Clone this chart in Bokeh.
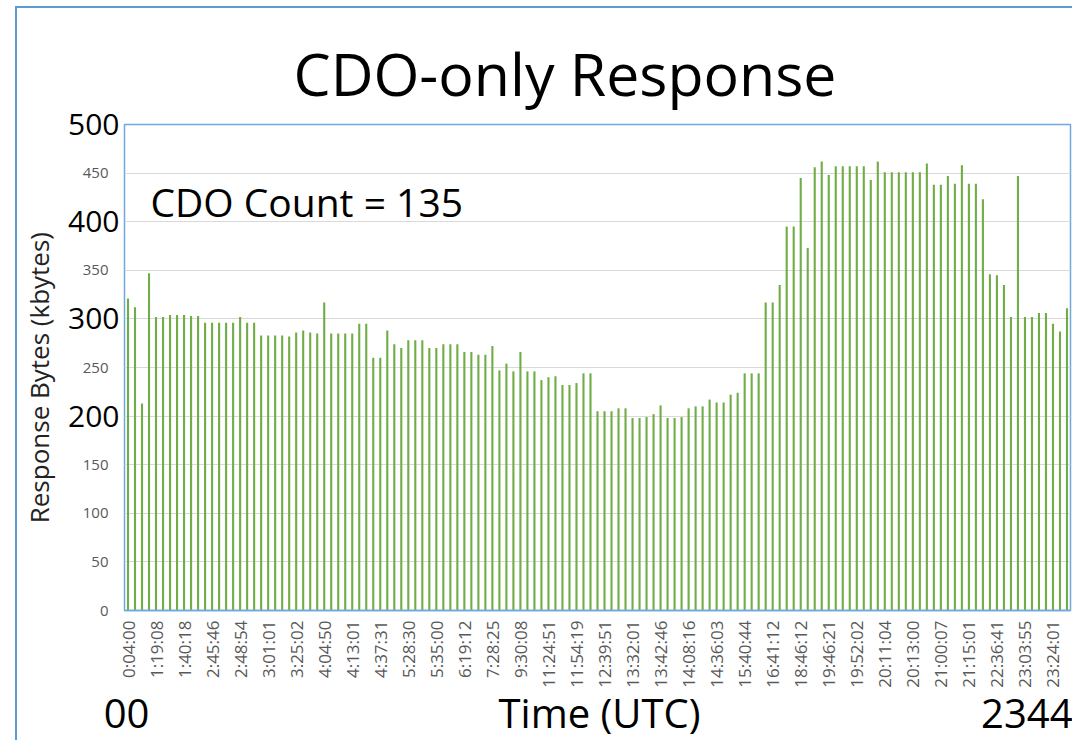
import math
from bokeh.plotting import figure
from bokeh.models import FixedTicker, Label, Range1d, LinearAxis
from bokeh.embed import file_html
from bokeh.resources import INLINE

# ---- data ----
tick_labels = [
    "0:04:00", "1:19:08", "1:40:18", "2:45:46", "2:48:54", "3:01:01", "3:25:02",
    "4:04:50", "4:13:01", "4:37:31", "5:28:30", "5:35:00", "6:19:12", "7:28:25",
    "9:30:08", "11:24:51", "11:54:19", "12:39:51", "13:32:01", "13:42:46",
    "14:08:16", "14:36:03", "15:40:44", "16:41:12", "18:46:12", "19:46:21",
    "19:52:02", "20:11:04", "20:13:00", "21:00:07", "21:15:01", "22:36:41",
    "23:03:55", "23:24:01",
]

response_kbytes = [
    321, 312, 213, 347, 302, 302, 304, 304, 304, 303,
    303, 296, 296, 296, 296, 296, 302, 296, 296, 283,
    283, 283, 283, 282, 286, 288, 286, 285, 317, 285,
    285, 285, 285, 295, 295, 260, 260, 288, 274, 270,
    278, 278, 278, 270, 270, 274, 274, 274, 266, 266,
    263, 263, 272, 247, 254, 246, 266, 246, 246, 237,
    240, 241, 232, 232, 234, 244, 244, 205, 205, 205,
    208, 208, 198, 198, 199, 202, 211, 198, 198, 199,
    208, 210, 210, 217, 214, 214, 222, 224, 244, 244,
    244, 317, 317, 335, 395, 395, 445, 373, 456, 462,
    448, 457, 457, 457, 457, 457, 443, 462, 451, 451,
    451, 451, 451, 451, 460, 438, 438, 447, 439, 458,
    439, 439, 423, 346, 345, 335, 302, 447, 302, 302,
    306, 306, 295, 287, 311,
]

y_ticks_small = [0, 50, 100, 150, 250, 350, 450]
y_ticks_big = [200, 300, 400, 500]
y_grid = [0, 50, 100, 150, 200, 250, 300, 350, 400, 450, 500]

title_text = "CDO-only Response"
count_text = "CDO Count = 135"
y_title = "Response Bytes (kbytes)"
bottom_texts = ["00", "Time (UTC)", "2344"]

# ---- figure ----
n = len(response_kbytes)
xs = list(range(n))
FONT = "Open Sans"
BLUE = "#6FA8DC"

W, H = 1057, 734
p = figure(width=W, height=H, output_backend="svg", toolbar_location=None,
           x_range=Range1d(-0.5, n - 0.5), y_range=Range1d(0, 500),
           min_border_left=107, min_border_right=4,
           min_border_top=116, min_border_bottom=132)
p.styles = {"margin-left": "15px", "margin-top": "6px",
            "border-left": "2px solid #5B9BD5", "border-top": "2px solid #5B9BD5"}

p.vbar(x=xs, top=response_kbytes, bottom=0, width=0.3,
       fill_color="#70AD47", line_color=None)

# title
p.title.text = title_text
p.title.align = "left"
p.title.offset = 169
p.title.text_font = FONT
p.title.text_font_size = "59px"
p.title.text_font_style = "normal"
p.title.text_color = "black"
p.title.standoff = 24

# inner x axis: time labels
p.xaxis.ticker = FixedTicker(ticks=xs[::4])
p.xaxis.major_label_overrides = {xs[4 * k]: lab for k, lab in enumerate(tick_labels)}
p.xaxis.major_label_orientation = math.pi / 2
p.xaxis.major_label_text_font = FONT
p.xaxis.major_label_text_font_size = "17px"
p.xaxis.major_label_text_color = "#595959"
p.xaxis.major_tick_line_color = None
p.xaxis.major_tick_out = 0
p.xaxis.major_tick_in = 0
p.xaxis.minor_tick_line_color = None
p.xaxis.axis_line_color = BLUE
p.xaxis.axis_line_width = 1.5
p.xaxis.major_label_standoff = 10

# outer x axis: the big texts below the chart (placed in page-pixel range)
p.extra_x_ranges = {"page": Range1d(124, 1070)}
bottom_pos = [126, 599, 1030]
ax2 = LinearAxis(x_range_name="page", ticker=FixedTicker(ticks=bottom_pos),
                 major_label_overrides=dict(zip(bottom_pos, bottom_texts)))
ax2.major_label_text_font = FONT
ax2.major_label_text_font_size = "40px"
ax2.major_label_text_color = "black"
ax2.major_tick_line_color = None
ax2.major_tick_out = 0
ax2.major_tick_in = 0
ax2.minor_tick_line_color = None
ax2.axis_line_color = None
ax2.major_label_standoff = -6
p.add_layout(ax2, "below")

# inner y axis: small grey labels
p.yaxis.ticker = FixedTicker(ticks=y_ticks_small)
p.yaxis.major_label_text_font = FONT
p.yaxis.major_label_text_font_size = "15px"
p.yaxis.major_label_text_color = "#595959"
p.yaxis.major_tick_line_color = None
p.yaxis.major_tick_out = 0
p.yaxis.major_tick_in = 0
p.yaxis.minor_tick_line_color = None
p.yaxis.axis_line_color = None
p.yaxis.major_label_standoff = 16

# outer y axis: large black labels + axis title
ay2 = LinearAxis(ticker=FixedTicker(ticks=y_ticks_big))
ay2.major_label_text_font = FONT
ay2.major_label_text_font_size = "30px"
ay2.major_label_text_color = "black"
ay2.major_tick_line_color = None
ay2.major_tick_out = 0
ay2.major_tick_in = 0
ay2.minor_tick_line_color = None
ay2.axis_line_color = None
ay2.major_label_standoff = -40
ay2.axis_label = y_title + "\u00a0\u00a0\u00a0"
ay2.axis_label_text_font = FONT
ay2.axis_label_text_font_size = "26px"
ay2.axis_label_text_font_style = "normal"
ay2.axis_label_text_color = "#222222"
ay2.axis_label_standoff = 8
p.add_layout(ay2, "left")

p.ygrid.ticker = FixedTicker(ticks=y_grid)
p.ygrid.grid_line_color = "#D9D9D9"
p.xgrid.grid_line_color = None
p.outline_line_color = BLUE
p.outline_line_width = 1.5

# in-chart note
p.add_layout(Label(x=3.2, y=421, text=count_text, text_align="left",
                   text_baseline="alphabetic", text_font=FONT,
                   text_font_size="39px", text_color="black"))

open("out.html", "w").write(file_html(p, INLINE))
